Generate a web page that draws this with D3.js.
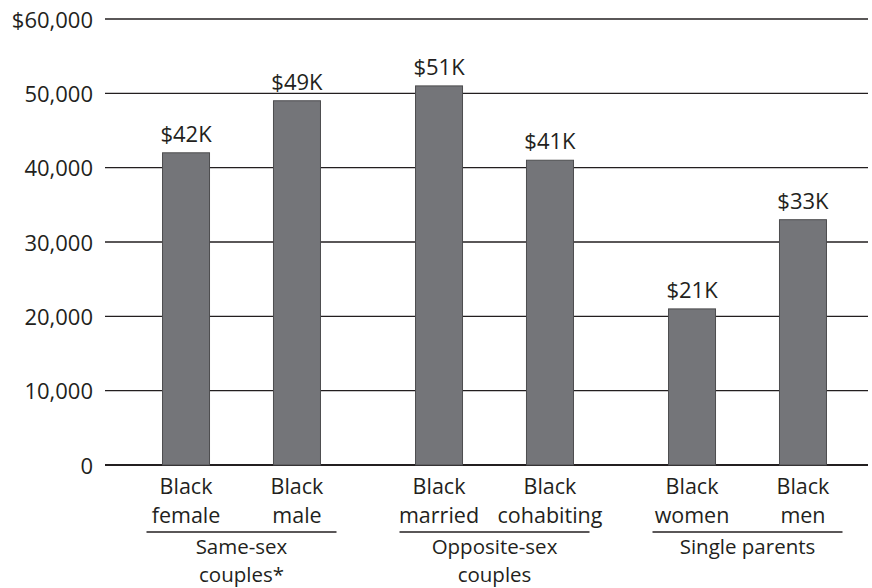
<!DOCTYPE html>
<html><head><meta charset="utf-8">
<script src="https://cdn.jsdelivr.net/npm/d3@7"></script>
<style>
html,body{margin:0;padding:0;background:#fff;}
text{font-family:"Open Sans",sans-serif;fill:#231f20;}
</style></head>
<body><svg id="c" width="872" height="588"></svg>
<script>
const groups = ["Same-sex couples*", "Opposite-sex couples", "Single parents"];
const groupLines = [["Same-sex", "couples*"], ["Opposite-sex", "couples"], ["Single parents"]];
const categories = [["Black","female"],["Black","male"],["Black","married"],["Black","cohabiting"],["Black","women"],["Black","men"]];
const categoryGroup = [0,0,1,1,2,2];
const values = [42000, 49000, 51000, 41000, 21000, 33000];
const valueLabels = ["$42K","$49K","$51K","$41K","$21K","$33K"];
const yTicks = [0,10000,20000,30000,40000,50000,60000];
const yTickLabels = ["0","10,000","20,000","30,000","40,000","50,000","$60,000"];

const svg = d3.select("#c");
const y = d3.scaleLinear().domain([0,60000]).range([465,19]);
const xg = d3.scaleBand().domain(d3.range(groups.length)).range([115,874]).padding(0);
const xi = d3.scalePoint().domain([0,1]).range([0, xg.bandwidth()]).padding(0.64);
const bw = 47;
const cx = i => xg(categoryGroup[i]) + xi(i % 2);

// gridlines
svg.append("g").selectAll("line").data(yTicks).join("line")
  .attr("x1",105).attr("x2",868)
  .attr("y1",d=>y(d)).attr("y2",d=>y(d))
  .attr("stroke","#231f20").attr("stroke-width",d=>d===0?2.2:1.3);

svg.append("g").selectAll("text").data(yTicks).join("text")
  .attr("x",93).attr("y",d=>y(d)+8.5).attr("text-anchor","end")
  .style("font-size","22px").text((d,i)=>yTickLabels[i]);

// bars
svg.append("g").selectAll("rect").data(values).join("rect")
  .attr("x",(d,i)=>cx(i)-bw/2).attr("width",bw)
  .attr("y",d=>y(d)).attr("height",d=>y(0)-y(d))
  .attr("fill","#747579").attr("stroke","#4d4d4f").attr("stroke-width",1);

// value labels
svg.append("g").selectAll("text").data(values).join("text")
  .attr("x",(d,i)=>cx(i)).attr("y",d=>y(d)-11).attr("text-anchor","middle")
  .style("font-size","22px").text((d,i)=>valueLabels[i]);

// category labels
const cat = svg.append("g").selectAll("text").data(categories).join("text")
  .attr("text-anchor","middle").style("font-size","21.5px");
cat.append("tspan").attr("x",(d,i)=>cx(i)).attr("y",494).text(d=>d[0]);
cat.append("tspan").attr("x",(d,i)=>cx(i)).attr("y",523).text(d=>d[1]);

// group separators
svg.append("g").selectAll("line").data(groups).join("line")
  .attr("x1",(d,i)=>xg(i)+xg.bandwidth()/2-95).attr("x2",(d,i)=>xg(i)+xg.bandwidth()/2+95)
  .attr("y1",532).attr("y2",532).attr("stroke","#231f20").attr("stroke-width",1.3);

const gl = svg.append("g").selectAll("text").data(groupLines).join("text")
  .attr("text-anchor","middle").style("font-size","20.5px");
gl.each(function(lines,i){
  const t = d3.select(this);
  lines.forEach((s,j)=>t.append("tspan").attr("x",xg(i)+xg.bandwidth()/2).attr("y",554+j*28).text(s));
});
</script></body></html>
